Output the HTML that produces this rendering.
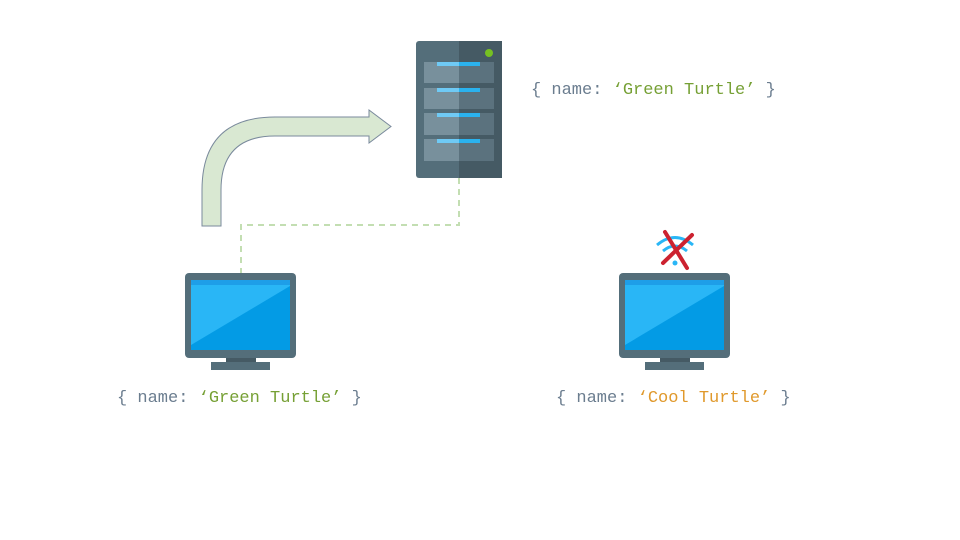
<!DOCTYPE html>
<html><head><meta charset="utf-8"><style>
body{margin:0;width:960px;height:540px;background:#fff;overflow:hidden;position:relative;font-family:"Liberation Mono",monospace}
.t{position:absolute;font-size:17px;color:#6b7d8f;white-space:pre;line-height:20px}
.g{color:#76a035}.o{color:#e0992c}
</style></head><body>
<svg width="960" height="540" style="position:absolute;left:0;top:0">
<path d="M202,226 L202,190 Q202,117 275,117 L369,117 L369,110 L391,126.5 L369,143 L369,136 L275,136 Q221,136 221,190 L221,226 Z" fill="#d9e8d2" stroke="#7a8a9c" stroke-width="1"/>
<path d="M459,178 L459,225 L241,225 L241,273" fill="none" stroke="#c3deb2" stroke-width="2" stroke-dasharray="6,5"/>
<rect x="416" y="41" width="86" height="137" rx="3" fill="#546e7a"/>
<rect x="459" y="41" width="43" height="137" fill="#455a64"/>
<g fill="#78909c"><rect x="424" y="62" width="35" height="21"/><rect x="424" y="88" width="35" height="21"/><rect x="424" y="113" width="35" height="22"/><rect x="424" y="139" width="35" height="22"/></g>
<g fill="#5b727e"><rect x="459" y="62" width="35" height="21"/><rect x="459" y="88" width="35" height="21"/><rect x="459" y="113" width="35" height="22"/><rect x="459" y="139" width="35" height="22"/></g>
<g fill="#6fcaf5"><rect x="437" y="62" width="22" height="4"/><rect x="437" y="88" width="22" height="4"/><rect x="437" y="113" width="22" height="4"/><rect x="437" y="139" width="22" height="4"/></g>
<g fill="#2ab2ee"><rect x="459" y="62" width="21" height="4"/><rect x="459" y="88" width="21" height="4"/><rect x="459" y="113" width="21" height="4"/><rect x="459" y="139" width="21" height="4"/></g>
<circle cx="489" cy="53" r="4" fill="#76c122"/>
<g id="m">
<rect x="185" y="273" width="111" height="85" rx="4" fill="#546e7a"/>
<rect x="191" y="280" width="99" height="70" fill="#039be5"/>
<path d="M191,280 L290,280 L290,286 L191,345 Z" fill="#29b6f6"/>
<rect x="191" y="280" width="99" height="5" fill="#1e9ee8"/>
<rect x="226" y="358" width="30" height="5" fill="#455a64"/>
<rect x="211" y="362" width="59" height="8" fill="#546e7a"/>
</g>
<use href="#m" x="434"/>
<g fill="none" stroke="#29b6f6" stroke-width="3">
<path d="M657,245 Q675,230 693,245"/><path d="M663,251 Q675,241 687,251"/>
</g>
<circle cx="675" cy="263" r="2.5" fill="#29b6f6"/>
<g stroke="#cc2230" stroke-width="4" stroke-linecap="round">
<line x1="665" y1="232" x2="687" y2="268"/><line x1="692" y1="235" x2="663" y2="263"/>
</g>
</svg>
<div class="t" style="left:531px;top:81px">{ name: <span class="g">‘Green Turtle’</span> }</div>
<div class="t" style="left:117px;top:389px">{ name: <span class="g">‘Green Turtle’</span> }</div>
<div class="t" style="left:556px;top:389px">{ name: <span class="o">‘Cool Turtle’</span> }</div>
</body></html>
